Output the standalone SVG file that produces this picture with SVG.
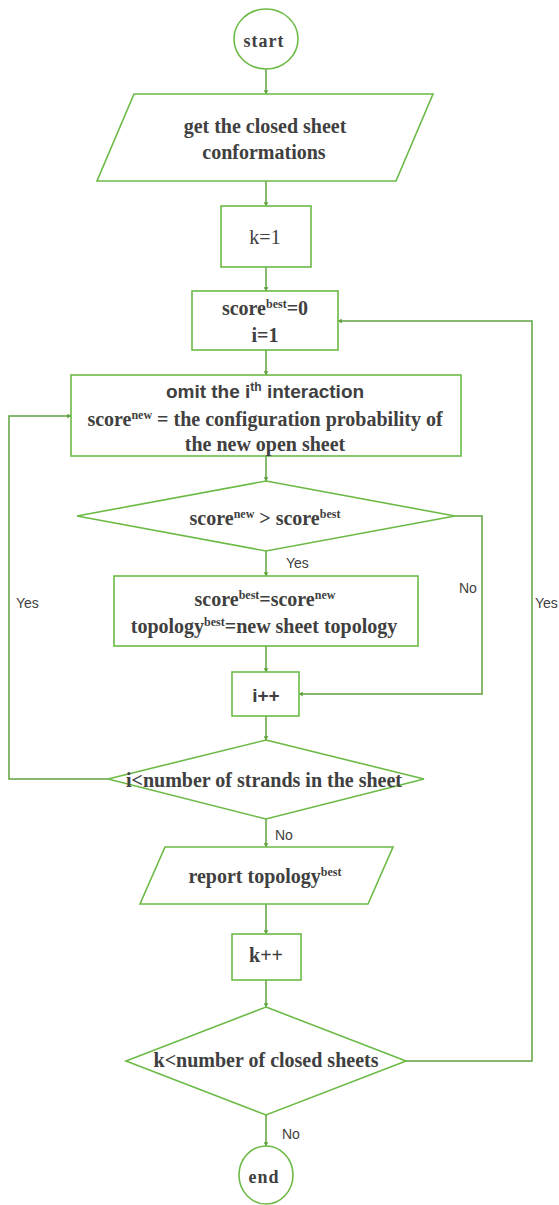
<svg xmlns="http://www.w3.org/2000/svg" width="559" height="1205" viewBox="0 0 559 1205">
<style>
.n{fill:#fff;stroke:#6cba46;stroke-width:1.6}
.c{fill:none;stroke:#5fa23e;stroke-width:1.5}
.t{font-family:"Liberation Serif","Times New Roman",serif;font-weight:bold;font-size:20px;fill:#404040;text-anchor:middle}
.sa{font-family:"Liberation Sans",Arial,sans-serif}
.s{font-family:"Liberation Sans",Arial,sans-serif;font-size:14px;fill:#404040}
.sup{font-size:12px}
</style>
<defs>
<marker id="a" viewBox="0 0 6 8" refX="6" refY="4" markerWidth="4" markerHeight="5" orient="auto" markerUnits="userSpaceOnUse">
<path d="M0,0 L6,4 L0,8 z" fill="#5fa23e"/>
</marker>
</defs>
<rect width="559" height="1205" fill="#fff"/>
<g id="connectors">
<path class="c" d="M266,69 V94" marker-end="url(#a)"/>
<path class="c" d="M266,181 V206" marker-end="url(#a)"/>
<path class="c" d="M266,267 V291" marker-end="url(#a)"/>
<path class="c" d="M266,350 V375" marker-end="url(#a)"/>
<path class="c" d="M266,456 V481" marker-end="url(#a)"/>
<path class="c" d="M266,551 V576" marker-end="url(#a)"/>
<path class="c" d="M266,646 V672" marker-end="url(#a)"/>
<path class="c" d="M455,516 H482 V694 H299" marker-end="url(#a)"/>
<path class="c" d="M266,716 V740" marker-end="url(#a)"/>
<path class="c" d="M108,779 H9 V416 H71" marker-end="url(#a)"/>
<path class="c" d="M266,819 V847" marker-end="url(#a)"/>
<path class="c" d="M266,904 V934" marker-end="url(#a)"/>
<path class="c" d="M266,980 V1007" marker-end="url(#a)"/>
<path class="c" d="M406,1061 H532 V321 H338" marker-end="url(#a)"/>
<path class="c" d="M266,1115 V1146" marker-end="url(#a)"/>
<text class="s" x="286" y="568">Yes</text>
<text class="s" x="459" y="593">No</text>
<text class="s" x="16" y="608">Yes</text>
<text class="s" x="535" y="608">Yes</text>
<text class="s" x="275" y="840">No</text>
<text class="s" x="282" y="1139">No</text>
</g>
<g id="start">
<ellipse class="n" cx="266" cy="39" rx="32" ry="30"/>
<text class="t" x="264" y="47" style="font-size:18px" letter-spacing="1">start</text>
</g>
<g id="get">
<polygon class="n" points="134,94 433,94 396,181 97,181"/>
<text class="t" x="265" y="133">get the closed sheet</text>
<text class="t" x="264" y="159">conformations</text>
</g>
<g id="k1">
<rect class="n" x="221" y="206" width="90" height="61"/>
<text class="t" x="265" y="244" style="font-weight:normal">k=1</text>
</g>
<g id="init">
<rect class="n" x="192" y="291" width="146" height="59"/>
<text class="t" x="265" y="315">score<tspan class="sup" dy="-7">best</tspan><tspan dy="7">=0</tspan></text>
<text class="t" x="265" y="342">i=1</text>
</g>
<g id="omit">
<rect class="n" x="71" y="375" width="390" height="81"/>
<text class="t sa" x="265" y="398" style="font-size:19px">omit the i<tspan class="sup" dy="-7">th</tspan><tspan dy="7"> interaction</tspan></text>
<text class="t" x="265" y="426">score<tspan class="sup" dy="-7">new</tspan><tspan dy="7"> = the configuration probability of</tspan></text>
<text class="t" x="265" y="451">the new open sheet</text>
</g>
<g id="cmp">
<polygon class="n" points="266,481 455,516 266,551 77,516"/>
<text class="t" x="265" y="525">score<tspan class="sup" dy="-7">new</tspan><tspan dy="7"> &gt; score</tspan><tspan class="sup" dy="-7">best</tspan></text>
</g>
<g id="update">
<rect class="n" x="114" y="576" width="304" height="70"/>
<text class="t" x="265" y="606">score<tspan class="sup" dy="-7">best</tspan><tspan dy="7">=score</tspan><tspan class="sup" dy="-7">new</tspan></text>
<text class="t" x="264" y="633">topology<tspan class="sup" dy="-7">best</tspan><tspan dy="7">=new sheet topology</tspan></text>
</g>
<g id="inc">
<rect class="n" x="232" y="672" width="67" height="44"/>
<text class="t sa" x="266" y="702" style="font-size:19px">i++</text>
</g>
<g id="loopi">
<polygon class="n" points="266,740 424,779 266,819 108,779"/>
<text class="t" x="264" y="787">i&lt;number of strands in the sheet</text>
</g>
<g id="report">
<polygon class="n" points="165,847 393,847 368,904 140,904"/>
<text class="t" x="265" y="883">report topology<tspan class="sup" dy="-7">best</tspan></text>
</g>
<g id="kinc">
<rect class="n" x="232" y="934" width="69" height="46"/>
<text class="t" x="266" y="962">k++</text>
</g>
<g id="loopk">
<polygon class="n" points="266,1007 406,1061 266,1115 126,1061"/>
<text class="t" x="266" y="1067">k&lt;number of closed sheets</text>
</g>
<g id="end">
<ellipse class="n" cx="266" cy="1175" rx="27" ry="29"/>
<text class="t" x="264" y="1183" style="font-size:18px" letter-spacing="1">end</text>
</g>
</svg>
